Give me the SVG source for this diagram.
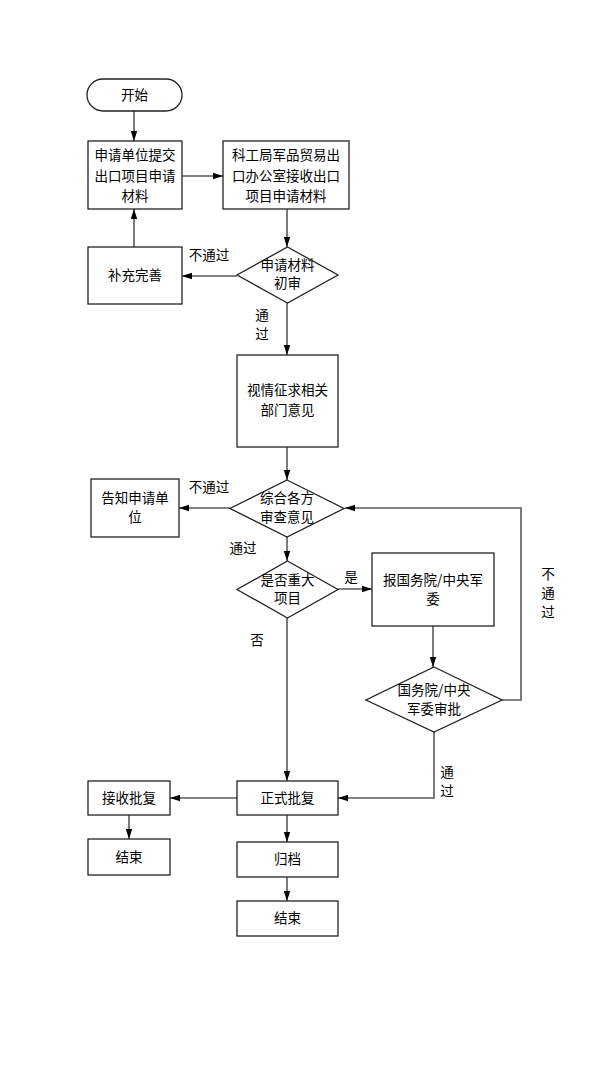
<svg xmlns="http://www.w3.org/2000/svg" width="616" height="1078" viewBox="0 0 616 1078">
<defs>
<marker id="arr" markerWidth="10" markerHeight="8" refX="10" refY="4" orient="auto" markerUnits="userSpaceOnUse">
<path d="M0,0.8 L10,4 L0,7.2 Z" fill="#000"/>
</marker>
<style>
.n{fill:#fff;stroke:#222;stroke-width:1.3}
.c{fill:none;stroke:#5a5a5a;stroke-width:1.6;marker-end:url(#arr)}
text{font-family:"Noto Sans CJK SC","Liberation Sans",sans-serif;font-size:13.5px;fill:#000;text-anchor:middle}
</style>
</defs>
<rect width="616" height="1078" fill="#fff"/>
<g id="connectors">
<path class="c" d="M134,111 V141"/>
<path class="c" d="M182,176 H223"/>
<path class="c" d="M287,209 V247"/>
<path class="c" d="M237,276 H182"/>
<path class="c" d="M134,247 V209"/>
<path class="c" d="M287,303 V355"/>
<path class="c" d="M287,447 V480"/>
<path class="c" d="M230,508 H179"/>
<path class="c" d="M287,537 V561"/>
<path class="c" d="M338,589 H372"/>
<path class="c" d="M433,626 V667"/>
<path class="c" d="M502,700 H521 V508 H345"/>
<path class="c" d="M434,732 V798 H338"/>
<path class="c" d="M287,618 V781"/>
<path class="c" d="M237,798 H170"/>
<path class="c" d="M129,815 V839"/>
<path class="c" d="M287,815 V842"/>
<path class="c" d="M287,877 V901"/>
<text x="209" y="260">不通过</text>
<text x="262" y="320">通</text>
<text x="262" y="339">过</text>
<text x="209" y="492">不通过</text>
<text x="243" y="553">通过</text>
<text x="351" y="582">是</text>
<text x="257" y="645">否</text>
<text x="548" y="579">不</text>
<text x="548" y="598">通</text>
<text x="548" y="617">过</text>
<text x="447" y="777">通</text>
<text x="447" y="796">过</text>
</g>
<g id="start">
<rect class="n" x="87" y="79" width="95" height="32" rx="16"/>
<text x="134.5" y="100">开始</text>
</g>
<g id="submit">
<rect class="n" x="88" y="141" width="94" height="68"/>
<text x="135" y="160">申请单位提交</text>
<text x="135" y="181">出口项目申请</text>
<text x="135" y="201">材料</text>
</g>
<g id="receive">
<rect class="n" x="223" y="141" width="126" height="68"/>
<text x="286" y="160">科工局军品贸易出</text>
<text x="286" y="181">口办公室接收出口</text>
<text x="286" y="201">项目申请材料</text>
</g>
<g id="supplement">
<rect class="n" x="88" y="247" width="94" height="57"/>
<text x="135" y="280">补充完善</text>
</g>
<g id="review1">
<polygon class="n" points="287.5,247 338,275 287.5,303 237,275"/>
<text x="287.5" y="270">申请材料</text>
<text x="287.5" y="288">初审</text>
</g>
<g id="consult">
<rect class="n" x="237" y="355" width="101" height="92"/>
<text x="287.5" y="395">视情征求相关</text>
<text x="287.5" y="415">部门意见</text>
</g>
<g id="review2">
<polygon class="n" points="287,480 344,508.5 287,537 230,508.5"/>
<text x="287" y="503">综合各方</text>
<text x="287" y="522">审查意见</text>
</g>
<g id="notify">
<rect class="n" x="91" y="479" width="88" height="58"/>
<text x="135" y="503">告知申请单</text>
<text x="135" y="522">位</text>
</g>
<g id="major">
<polygon class="n" points="287.5,561 338,589.5 287.5,618 237,589.5"/>
<text x="287.5" y="585">是否重大</text>
<text x="287.5" y="603">项目</text>
</g>
<g id="report">
<rect class="n" x="372" y="553" width="122" height="73"/>
<text x="433" y="585">报国务院/中央军</text>
<text x="433" y="604">委</text>
</g>
<g id="approve">
<polygon class="n" points="434,667 502,700 434,732 366,700"/>
<text x="434" y="695">国务院/中央</text>
<text x="434" y="714">军委审批</text>
</g>
<g id="formal">
<rect class="n" x="237" y="781" width="101" height="34"/>
<text x="287.5" y="803">正式批复</text>
</g>
<g id="accept">
<rect class="n" x="88" y="781" width="82" height="34"/>
<text x="129" y="803">接收批复</text>
</g>
<g id="end1">
<rect class="n" x="88" y="839" width="82" height="36"/>
<text x="129" y="862">结束</text>
</g>
<g id="archive">
<rect class="n" x="237" y="842" width="101" height="35"/>
<text x="287.5" y="864">归档</text>
</g>
<g id="end2">
<rect class="n" x="237" y="901" width="101" height="35"/>
<text x="287.5" y="923">结束</text>
</g>
</svg>
